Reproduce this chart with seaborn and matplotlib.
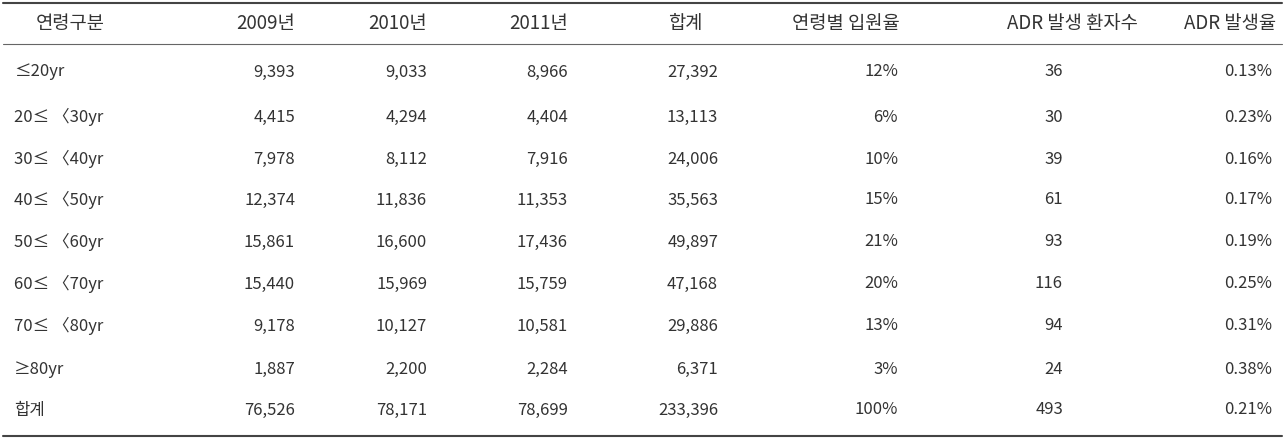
import matplotlib
matplotlib.use("Agg")
import matplotlib.pyplot as plt
import seaborn as sns

sns.set_theme(style="white")
plt.rcParams['font.family'] = ['Noto Sans CJK KR', 'DejaVu Sans']

headers = ["연령구분", "2009년", "2010년", "2011년", "합계", "연령별 입원율", "ADR 발생 환자수", "ADR 발생율"]
age_groups = ["≤20yr", "20≤ 〈30yr", "30≤ 〈40yr", "40≤ 〈50yr", "50≤ 〈60yr",
              "60≤ 〈70yr", "70≤ 〈80yr", "≥80yr", "합계"]
y2009 = ["9,393", "4,415", "7,978", "12,374", "15,861", "15,440", "9,178", "1,887", "76,526"]
y2010 = ["9,033", "4,294", "8,112", "11,836", "16,600", "15,969", "10,127", "2,200", "78,171"]
y2011 = ["8,966", "4,404", "7,916", "11,353", "17,436", "15,759", "10,581", "2,284", "78,699"]
totals = ["27,392", "13,113", "24,006", "35,563", "49,897", "47,168", "29,886", "6,371", "233,396"]
adm_rate = ["12%", "6%", "10%", "15%", "21%", "20%", "13%", "3%", "100%"]
adr_pts = ["36", "30", "39", "61", "93", "116", "94", "24", "493"]
adr_rate = ["0.13%", "0.23%", "0.16%", "0.17%", "0.19%", "0.25%", "0.31%", "0.38%", "0.21%"]

W, H = 1285, 438
fig = plt.figure(figsize=(W / 100, H / 100), dpi=100)
ax = fig.add_axes([0, 0, 1, 1])
ax.set_xlim(0, W)
ax.set_ylim(H, 0)
ax.axis("off")

# (x, alignment) for each header
header_pos = [(70, "center"), (295, "right"), (427, "right"), (568, "right"),
              (685, "center"), (900, "right"), (1138, "right"), (1276, "right")]
value_right = [None, 295, 427, 568, 718, 898, 1063, 1272]
columns = [age_groups, y2009, y2010, y2011, totals, adm_rate, adr_pts, adr_rate]
txt = "#333333"

ax.plot([3, 1282], [3, 3], color="#444444", lw=1.5)
ax.plot([3, 1282], [44, 44], color="#666666", lw=0.8)
ax.plot([3, 1282], [436, 436], color="#444444", lw=1.5)

for (x, ha), h in zip(header_pos, headers):
    ax.text(x, 23, h, ha=ha, va="center", fontsize=13.5, color=txt)

row_y = [72, 117, 159, 200, 242, 284, 326, 369, 410]
for ci, col in enumerate(columns):
    for y, v in zip(row_y, col):
        if ci == 0:
            ax.text(14, y, v, ha="left", va="center", fontsize=12, color=txt)
        else:
            ax.text(value_right[ci], y, v, ha="right", va="center", fontsize=12, color=txt)

fig.savefig("out.png", dpi=100, facecolor="white")
